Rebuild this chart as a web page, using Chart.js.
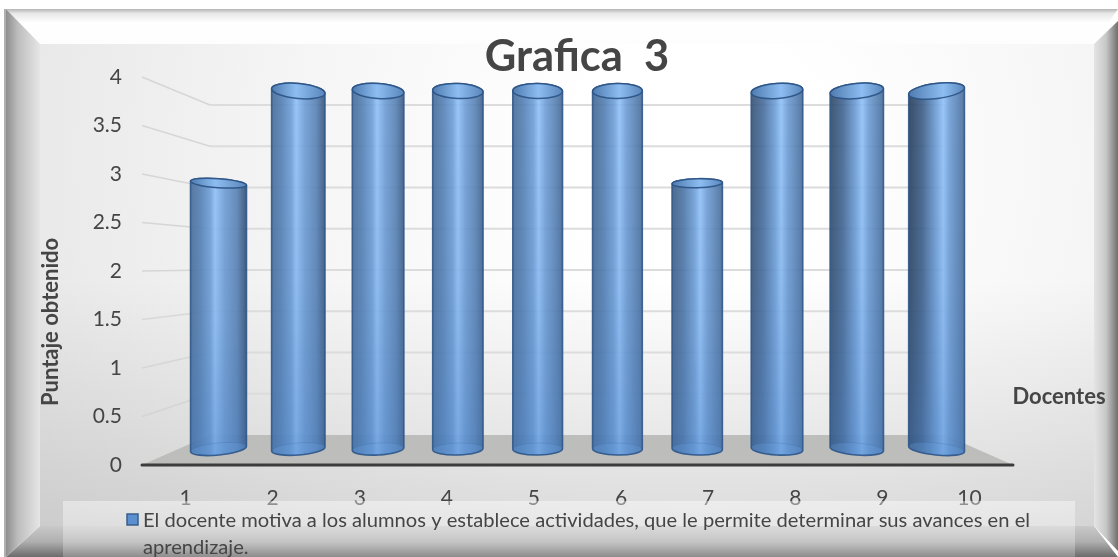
<!DOCTYPE html>
<html><head><meta charset="utf-8">
<style>html,body{margin:0;padding:0;background:#fff}canvas{display:block}</style>
<script src="https://cdn.jsdelivr.net/npm/chart.js@4"></script>
</head><body><canvas id="c" width="1118" height="557"></canvas>
<script>
const categories = ['1','2','3','4','5','6','7','8','9','10'];
const puntajes = [2.97,4,4,4,4,4,2.97,4,4,4];
const seriesName = ['El docente motiva a los alumnos y establece actividades, que le permite determinar sus avances en el','aprendizaje.'];
const titleText = 'Grafica  3';
const yAxisTitle = 'Puntaje obtenido';
const xAxisTitle = 'Docentes';
const FONT = 'Lato';
const INK = '#454545';

function hex(c){return [parseInt(c.slice(1,3),16),parseInt(c.slice(3,5),16),parseInt(c.slice(5,7),16)];}
function mix(a,b,t){const A=hex(a),B=hex(b);return 'rgb('+A.map((v,i)=>Math.round(v+(B[i]-v)*t)).join(',')+')';}

function drawFrame(ctx){
  const W=1118,H=557,L=6,T=9,R=1118,B=557,il=40,it=44,ir=1094,ib=526;
  ctx.save();
  ctx.fillStyle='#fff';ctx.fillRect(0,0,W,H);
  // interior
  let g=ctx.createRadialGradient(700,160,130,700,160,780);
  g.addColorStop(0,'#ffffff');g.addColorStop(.4,'#f6f6f6');g.addColorStop(1,'#e4e4e4');
  ctx.fillStyle=g;ctx.fillRect(il,it,ir-il,ib-it);
  g=ctx.createLinearGradient(0,280,0,ib);
  g.addColorStop(0,'rgba(0,0,0,0)');g.addColorStop(1,'rgba(0,0,0,.11)');
  ctx.fillStyle=g;ctx.fillRect(il,280,ir-il,ib-280);
  function poly(pts,fill){ctx.beginPath();pts.forEach((p,i)=>i?ctx.lineTo(p[0],p[1]):ctx.moveTo(p[0],p[1]));ctx.closePath();ctx.fillStyle=fill;ctx.fill();}
  // top band
  g=ctx.createLinearGradient(0,T,0,it);
  g.addColorStop(0,'#b5b5b5');g.addColorStop(.13,'#e8e8e8');g.addColorStop(.4,'#ffffff');g.addColorStop(1,'#fdfdfd');
  poly([[L,T],[R,T],[ir,it],[il,it]],g);
  // bottom band
  g=ctx.createLinearGradient(0,ib,0,B);
  g.addColorStop(0,'#c9c9c9');g.addColorStop(.5,'#b0b0b0');g.addColorStop(1,'#6c6c6c');
  poly([[L,B],[il,ib],[ir,ib],[R,B]],g);
  // left band
  g=ctx.createLinearGradient(L,0,il,0);
  g.addColorStop(0,'#8e8e8e');g.addColorStop(.35,'#bdbdbd');g.addColorStop(1,'#e6e6e6');
  poly([[L,T],[il,it],[il,ib],[L,B]],g);
  // right band
  g=ctx.createLinearGradient(ir,0,R,0);
  g.addColorStop(0,'#e4e4e4');g.addColorStop(.5,'#c8c8c8');g.addColorStop(1,'#6f6f6f');
  poly([[R,T+12],[ir,it],[ir,ib],[R,B-6]],g);
  ctx.fillStyle='#b0b0b0';ctx.fillRect(4,9,2,548);
  ctx.restore();
}

const depthPlugin = {
  id:'depth',
  beforeDraw(chart){drawFrame(chart.ctx);},
  beforeDatasetsDraw(chart){
    const ctx=chart.ctx,ys=chart.scales.y,a=chart.chartArea;
    const dz=30,inset=68;
    const bx0=a.left+inset,bx1=a.right-inset;
    const backY=p=>a.bottom-dz-(a.bottom-p)*(a.bottom-dz-(ys.getPixelForValue(4)+28))/(a.bottom-ys.getPixelForValue(4));
    ctx.save();
    // floor
    ctx.beginPath();ctx.moveTo(a.left,a.bottom);ctx.lineTo(bx0,a.bottom-dz);ctx.lineTo(bx1,a.bottom-dz);ctx.lineTo(a.right,a.bottom);ctx.closePath();
    ctx.fillStyle='#bdbdbb';ctx.fill();
    // grid walls
    ys.ticks.forEach(t=>{
      if(t.value===0)return;
      const p=ys.getPixelForValue(t.value),b=backY(p);
      ctx.strokeStyle=t.value<2?'rgba(205,205,205,.6)':'#d6d6d6';
      ctx.lineWidth=1.5;
      ctx.beginPath();ctx.moveTo(a.left,p);ctx.lineTo(bx0,b);ctx.stroke();
      ctx.strokeStyle='#dcdcdc';ctx.lineWidth=2;
      ctx.beginPath();ctx.moveTo(bx0,b);ctx.lineTo(bx1,b);ctx.stroke();
    });
    // axis line
    ctx.strokeStyle='#3c3c3c';ctx.lineWidth=3;ctx.lineCap='round';
    ctx.beginPath();ctx.moveTo(a.left,a.bottom);ctx.lineTo(a.right,a.bottom);ctx.stroke();
    ctx.restore();
  },
  beforeDatasetDraw(chart,args){
    const ctx=chart.ctx,a=chart.chartArea,meta=args.meta;
    const midX=(a.left+a.right)/2+0.5,kx=.916,baseC=449,ky=358/388;
    meta.data.forEach(el=>{
      const cx=midX+(el.x-midX)*kx;
      const dx=cx-midX,s=dx/360;
      const rx=el.width*kx/2*(.915+.12*s*s);
      const top=baseC-(el.base-el.y)*ky;
      const ryT=4.5+(183-top)*.0326,ryB=6;
      const rotT=-dx*ryT*4.5e-5,rotB=dx*ryB*4.5e-5;
      ctx.save();
      // body
      const tl=[cx-rx*Math.cos(rotT),top-rx*Math.sin(rotT)],tr=[cx+rx*Math.cos(rotT),top+rx*Math.sin(rotT)];
      const path=new Path2D();
      path.moveTo(tl[0],tl[1]);
      path.ellipse(cx,baseC,rx,ryB,rotB,Math.PI,0,true);
      path.lineTo(tr[0],tr[1]);
      path.ellipse(cx,top,rx,ryT,rotT,0,-Math.PI,true);
      path.closePath();
      const h=.53+.09*s;
      const leftEdge=mix('#466a96','#243a55',Math.max(0,s));
      const rightEdge=mix('#466a96','#2f4a6e',Math.max(0,-s));
      const g=ctx.createLinearGradient(cx-rx,0,cx+rx,0);
      g.addColorStop(0,leftEdge);
      g.addColorStop(Math.max(.03,h*.4),mix('#527fb3','#3a5b85',Math.max(0,s)));
      g.addColorStop(h*.8,'#6c9dd6');
      g.addColorStop(h,'#8fc0f8');
      g.addColorStop(h+(1-h)*.3,'#6d9cd4');
      g.addColorStop(h+(1-h)*.7,'#5680b2');
      g.addColorStop(1,rightEdge);
      ctx.globalAlpha=.9;
      ctx.fillStyle=g;ctx.fill(path);
      ctx.globalAlpha=1;
      // lower part of the cylinder turns flatter and bluer
      ctx.save();ctx.clip(path);
      const v=ctx.createLinearGradient(0,top,0,baseC+ryB);
      v.addColorStop(0,'rgba(70,120,185,0)');v.addColorStop(.5,'rgba(70,120,185,.1)');v.addColorStop(1,'rgba(70,125,195,.38)');
      ctx.fillStyle=v;ctx.fillRect(cx-rx-2,top-ryT-2,rx*2+4,baseC-top+ryT+ryB+6);
      ctx.restore();
      // bottom ellipse, seen through the glass
      ctx.beginPath();ctx.ellipse(cx,baseC,rx,ryB,rotB,0,Math.PI*2);
      ctx.fillStyle='rgba(105,160,225,.28)';ctx.fill();
      ctx.strokeStyle='rgba(60,105,165,.25)';ctx.lineWidth=1;ctx.stroke();
      // outline
      ctx.strokeStyle='rgba(48,88,138,.9)';ctx.lineWidth=1.6;ctx.stroke(path);
      // top cap
      ctx.beginPath();ctx.ellipse(cx,top,rx,ryT,rotT,0,Math.PI*2);
      const c=ctx.createLinearGradient(cx-rx,0,cx+rx,0);
      c.addColorStop(0,'#4f7cb0');c.addColorStop(h,'#8dbdf2');c.addColorStop(1,'#5a86ba');
      ctx.fillStyle=c;ctx.fill();
      ctx.strokeStyle='rgba(42,82,132,.9)';ctx.lineWidth=1.5;ctx.stroke();
      ctx.restore();
    });
    return false;
  },
  afterDraw(chart){
    const ctx=chart.ctx;
    ctx.save();
    // axis titles
    ctx.fillStyle=INK;ctx.textBaseline='middle';ctx.textAlign='center';
    ctx.font='bold 22px '+FONT;
    ctx.save();ctx.translate(51,322);ctx.rotate(-Math.PI/2);ctx.fillText(yAxisTitle,0,0);ctx.restore();
    ctx.fillText(xAxisTitle,1059,397);
    // legend panel
    const g=ctx.createLinearGradient(0,501,0,557);
    g.addColorStop(0,'rgba(255,255,255,.42)');g.addColorStop(1,'rgba(255,255,255,.22)');
    ctx.fillStyle=g;ctx.fillRect(63,501,1012,56);
    const color=chart.data.datasets[0].backgroundColor;
    ctx.fillStyle=color;ctx.strokeStyle='#385d8a';ctx.lineWidth=1.5;
    ctx.fillRect(127,514,11,11);ctx.strokeRect(127,514,11,11);
    ctx.fillStyle=INK;ctx.textAlign='left';ctx.font='20.15px '+FONT;
    ctx.fillText(seriesName[0],143,520);
    ctx.fillText(seriesName[1],143,547);
    ctx.restore();
  }
};

new Chart(document.getElementById('c'),{
  type:'bar',
  data:{labels:categories,datasets:[{label:seriesName.join(' '),data:puntajes,backgroundColor:'#5b8fd0',borderColor:'#385d8a',barPercentage:.68,categoryPercentage:1}]},
  plugins:[depthPlugin],
  options:{
    responsive:false,animation:false,
    layout:{padding:{left:36,right:0,top:4,bottom:0}},
    plugins:{
      legend:{display:false},tooltip:{enabled:false},
      title:{display:true,text:titleText,color:INK,align:'center',font:{family:FONT,size:43.5,weight:'bold',lineHeight:.9},padding:{top:33.85,bottom:0}}
    },
    scales:{
      x:{grid:{display:false},border:{display:false},
        ticks:{color:INK,font:{family:FONT,size:21},padding:13,maxRotation:0,autoSkip:false},
        afterFit(s){s.height=92;}},
      y:{min:0,max:4,grid:{display:false},border:{display:false},
        ticks:{stepSize:.5,color:INK,font:{family:FONT,size:21},padding:12,callback:v=>String(v)},
        afterFit(s){s.width=106;}},
      rightGutter:{position:'right',min:0,max:1,grid:{display:false},border:{display:false},
        ticks:{display:false},afterFit(s){s.width=105;}}
    }
  }
});
</script></body></html>
